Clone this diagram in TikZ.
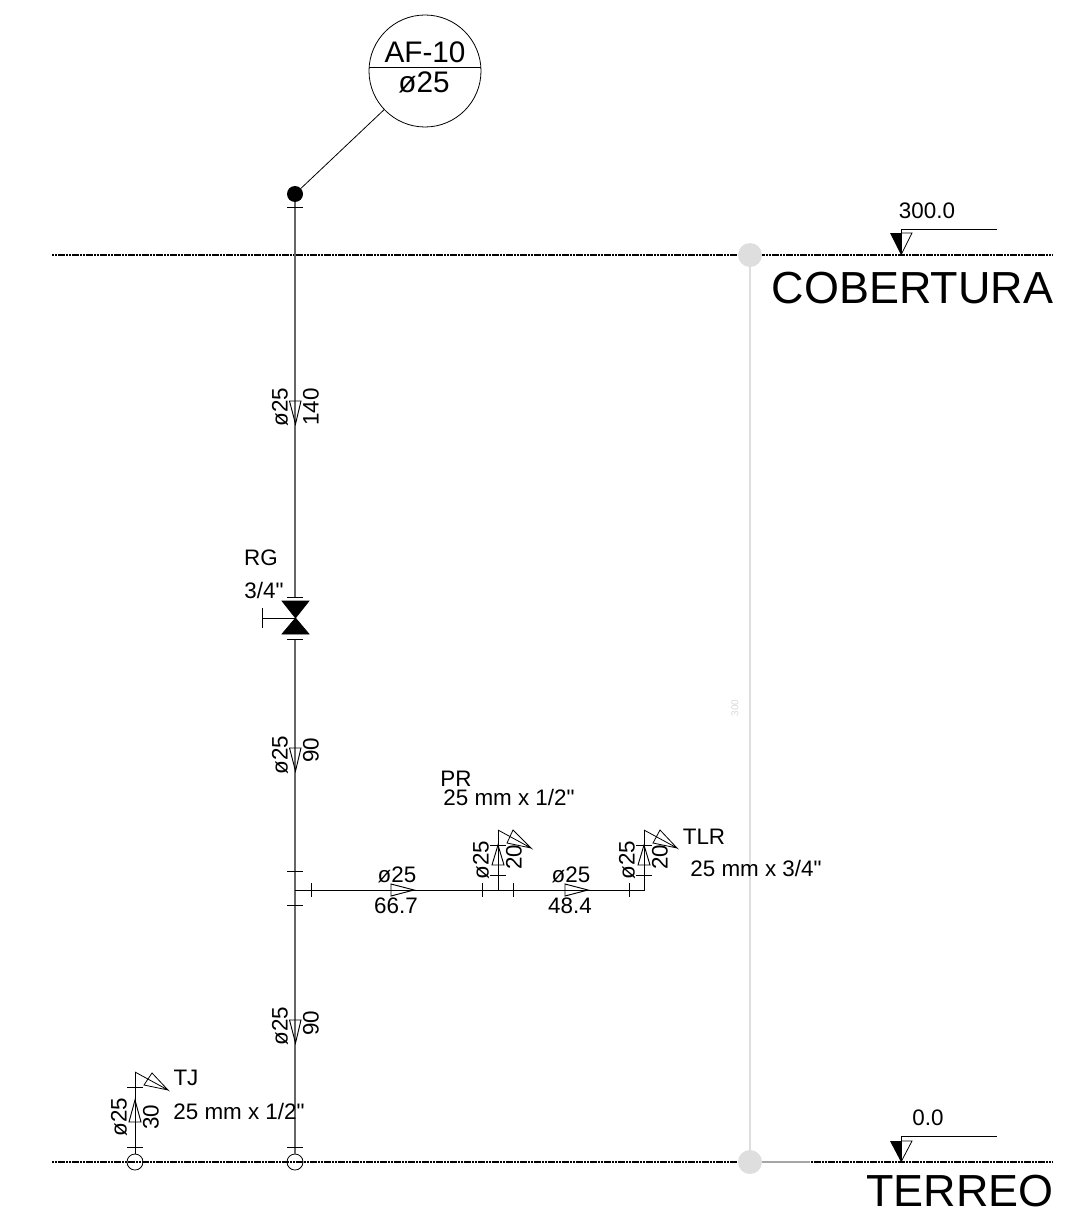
\documentclass[tikz,border=0pt]{standalone}
\usepackage{fontspec}
\newfontfamily\plainsans{Liberation Sans}
\tikzset{
  pipe/.style={draw=black!60,line width=0.85pt},
  thinline/.style={draw=black,line width=0.6pt},
  level/.style={draw=black,line width=1.25pt,dash pattern=on 1.7pt off 0.4pt},
  flow/.style={draw=black,line width=0.7pt},
  txt/.style={inner sep=0pt,font=\plainsans\fontsize{16.8}{18}\selectfont},
  big/.style={inner sep=0pt,font=\plainsans\fontsize{33.7}{38}\selectfont},
  tag/.style={inner sep=0pt,font=\plainsans\fontsize{22.3}{24}\selectfont},
  tiny/.style={inner sep=0pt,text=black!15,font=\plainsans\fontsize{7.5}{9}\selectfont},
  hub/.style={circle,fill=black!13,minimum size=18pt,inner sep=0pt},
  foot/.style={circle,draw=black,line width=0.6pt,minimum size=12pt,inner sep=0pt},
}
\begin{document}
\begin{tikzpicture}[x=0.75pt,y=-0.75pt]
\useasboundingbox (0,0) rectangle (1079,1209);

\coordinate (lvlA1) at (52,255);
\coordinate (lvlA2) at (1053,255);
\coordinate (lvlB1) at (52,1162);
\coordinate (lvlB2) at (1053,1162);
\draw[level] (lvlA1) -- (lvlA2);
\draw[level] (lvlB1) -- (lvlB2);

\node[hub] (hubA) at (750,255) {};
\node[hub] (hubB) at (750,1162) {};
\draw[draw=black!13,line width=1.2pt] (hubA) -- (hubB);
\coordinate (fade) at (810,1162);
\draw[draw=black!35,line width=1.1pt] (hubB) -- (fade);
\node[tiny,rotate=90] (height) at (735,708) {300};

\node[circle,draw=black,line width=0.6pt,minimum size=84pt,inner sep=0pt] (tagc) at (425,71) {};
\draw[thinline] (tagc.west |- 0,67) -- (tagc.east |- 0,67);
\node[tag] (tagA) at (425,52) {AF-10};
\node[tag] (tagB) at (424,82) {ø25};

\node[circle,fill=black,minimum size=12pt,inner sep=0pt] (dot) at (295,194) {};
\draw[thinline] (dot) -- (tagc);

\coordinate (valveT) at (295,597);
\coordinate (valveB) at (295,639);
\coordinate (valveM) at (295,618);
\coordinate (handle) at (262,618);
\coordinate (junction) at (295,890);
\node[foot] (footM) at (295,1162) {};
\node[foot] (footJ) at (135,1162) {};
\draw[pipe] (dot) -- (valveT);
\draw[pipe] (valveB) -- (footM);
\draw[fill=black,line width=0.5pt] (282,601) -- (309,601) -- (295.5,618) -- (309,634) -- (282,634) -- (295.5,618) -- cycle;
\draw[thinline] (valveM) -- (handle);
\draw[thinline] (262,608) -- (262,628);

\coordinate (prT) at (498,830);
\coordinate (prB) at (498,890);
\coordinate (tlrT) at (644,830);
\coordinate (tlrB) at (644,890);
\coordinate (tjT) at (135,1072);
\draw[thinline] (junction) -- (tlrB) -- (tlrT);
\draw[thinline] (prB) -- (prT);
\draw[thinline] (footJ) -- (tjT);

\foreach \ty in {207,597,639,871,905,1147}
  \draw[thinline] (295,\ty) +(-8,0) -- +(8,0);
\foreach \tx in {311,482,513,629}
  \draw[thinline] (\tx,890) +(0,-7) -- +(0,7);
\foreach \ty in {845,875} {
  \draw[thinline] (498,\ty) +(-8,0) -- +(8,0);
  \draw[thinline] (644,\ty) +(-8,0) -- +(8,0);
}
\foreach \ty in {1087,1147}
  \draw[thinline] (135,\ty) +(-8,0) -- +(8,0);

% flow arrows
\foreach \fy in {401,748,1020}
  \draw[flow] (289.5,\fy) -- (301,\fy) -- (295.5,\fy+23) -- cycle;
\foreach \fx in {391,565}
  \draw[flow] (\fx,884) -- (\fx+23,890) -- (\fx,896) -- cycle;
\draw[flow] (492,865) -- (498,845) -- (504,865) -- cycle;
\draw[flow] (638,865) -- (644,845) -- (650,865) -- cycle;
\draw[flow] (129,1122) -- (135,1100) -- (141,1122) -- cycle;

% end marks
\draw[thinline] (prT) -- (531,848) -- (513,830) -- (507,843) -- (531,848);
\draw[thinline] (tlrT) -- (677,848) -- (660,830) -- (653,843) -- (677,848);
\draw[thinline] (tjT) -- (168,1090) -- (152,1073) -- (144,1085) -- (168,1090);

% levels
\coordinate (markA) at (901,255);
\coordinate (markB) at (901,1162);
\draw[thinline] (markA) -- (901,229) -- (997,229);
\draw[thinline] (markB) -- (901,1136) -- (997,1136);
\fill[black] (markA) -- (890,233) -- (901,233) -- cycle;
\fill[black] (markB) -- (890,1141) -- (901,1141) -- cycle;
\draw[thinline] (markA) -- (912,233) -- (901,233);
\draw[thinline] (markB) -- (912,1141) -- (901,1141);

\node[txt] (lvlAtxt) at (927,211) {300.0};
\node[txt] (lvlBtxt) at (928,1118) {0.0};
\node[big] (cob) at (912.5,288) {COBERTURA};
\node[big] (ter) at (960,1191.5) {TERREO};

\node[txt] (rg) at (261,558) {RG};
\node[txt] (rgsize) at (264,590) {3/4"};

\node[txt,rotate=90] (d1) at (280,407) {ø25};
\node[txt,rotate=90] (l1) at (311,407) {140};
\node[txt,rotate=90] (d2) at (280,755) {ø25};
\node[txt,rotate=90] (l2) at (311,750) {90};
\node[txt,rotate=90] (d3) at (280,1026) {ø25};
\node[txt,rotate=90] (l3) at (311,1023) {90};
\node[txt,rotate=90] (d4) at (481,860) {ø25};
\node[txt,rotate=90] (l4) at (514,857) {20};
\node[txt,rotate=90] (d5) at (627,860) {ø25};
\node[txt,rotate=90] (l5) at (660,857) {20};
\node[txt,rotate=90] (d6) at (119,1117) {ø25};
\node[txt,rotate=90] (l6) at (151,1117) {30};

\node[txt] (d7) at (397,875) {ø25};
\node[txt] (l7) at (396,906) {66.7};
\node[txt] (d8) at (571,875) {ø25};
\node[txt] (l8) at (570,906) {48.4};

\node[txt] (pr) at (456,778.5) {PR};
\node[txt] (prsize) at (509,797.5) {25 mm x 1/2"};
\node[txt] (tlr) at (704,837) {TLR};
\node[txt] (tlrsize) at (756,868) {25 mm x 3/4"};
\node[txt] (tj) at (186,1078) {TJ};
\node[txt] (tjsize) at (239,1111) {25 mm x 1/2"};
\end{tikzpicture}
\end{document}
